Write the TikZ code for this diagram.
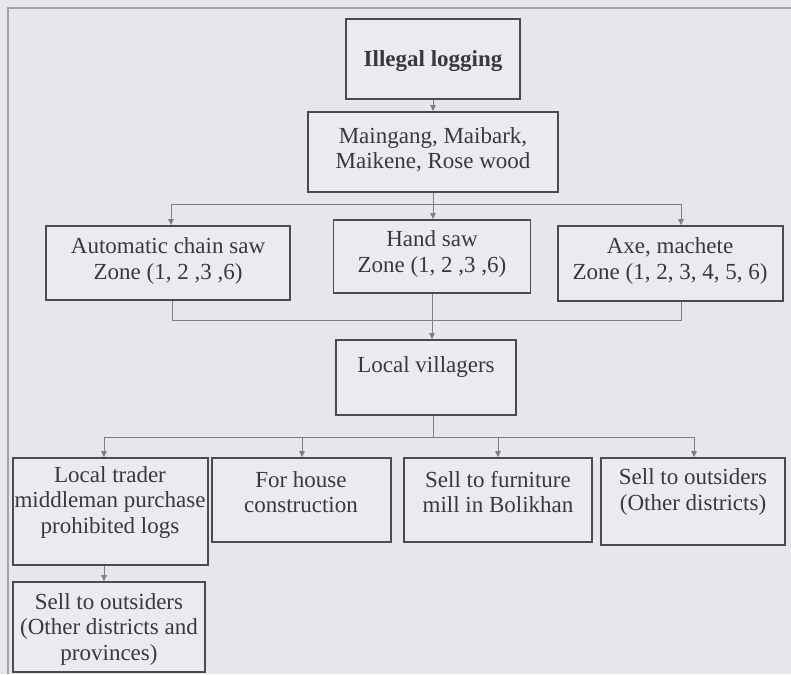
\documentclass[tikz,border=0pt]{standalone}
\usepackage{fontspec}
\setmainfont{Liberation Serif}
\usetikzlibrary{arrows.meta}
\definecolor{bg}{HTML}{E6E7EC}
\definecolor{boxfill}{HTML}{EAEBEF}
\definecolor{boxline}{HTML}{4A4A50}
\definecolor{txtc}{HTML}{38383E}
\definecolor{connc}{HTML}{7E7E86}
\definecolor{framec}{HTML}{A2A2AA}
\begin{document}
\begin{tikzpicture}[x=1pt,y=-1pt,
  box/.style={draw=boxline, fill=boxfill, line width=1.8pt, inner sep=0pt},
  txt/.style={text=txtc, align=center, inner sep=0pt, font=\fontsize{23}{25.5}\selectfont},
  conn/.style={draw=connc, line width=1pt},
  arr/.style={conn, -{Triangle[length=6pt,width=5.5pt]}}]
\fill[bg] (0,0) rectangle (791,674);
\useasboundingbox (0,0) rectangle (791,674);
\draw[framec, line width=1.2pt] (8,674) -- (8,8) -- (791,8);

% boxes
\node[box, minimum width=174pt, minimum height=80pt] (illegal) at (433,59) {};
\node[box, minimum width=250pt, minimum height=80pt] (maing) at (433,152) {};
\node[box, minimum width=244pt, minimum height=74pt] (chain) at (168,263) {};
\node[box, minimum width=197pt, minimum height=73pt] (hand) at (432,256.5) {};
\node[box, minimum width=225pt, minimum height=75pt] (axe) at (670.5,263.5) {};
\node[box, minimum width=180pt, minimum height=75pt] (vill) at (426,377.5) {};
\node[box, minimum width=195pt, minimum height=107pt] (trader) at (110.5,511.5) {};
\node[box, minimum width=179pt, minimum height=84pt] (house) at (301.5,500) {};
\node[box, minimum width=188pt, minimum height=84pt] (furn) at (498,500) {};
\node[box, minimum width=184pt, minimum height=87pt] (outs) at (693,501.5) {};
\node[box, minimum width=192pt, minimum height=90pt] (last) at (109,627) {};

% texts
\node[txt, font=\fontsize{23}{25.5}\selectfont\bfseries] (illegal-t) at (433,61) {Illegal logging};
\node[txt] (maing-t) at (433,150) {Maingang, Maibark,\\Maikene, Rose wood};
\node[txt] (chain-t) at (168,261) {Automatic chain saw\\Zone (1, 2 ,3 ,6)};
\node[txt] (hand-t) at (432,254) {Hand saw\\Zone (1, 2 ,3 ,6)};
\node[txt] (axe-t) at (670,261) {Axe, machete\\Zone (1, 2, 3, 4, 5, 6)};
\node[txt] (vill-t) at (426,367) {Local villagers};
\node[txt] (trader-t) at (110,502) {Local trader\\middleman purchase\\prohibited logs};
\node[txt] (house-t) at (301,492) {For house\\construction};
\node[txt] (furn-t) at (498,492) {Sell to furniture\\mill in Bolikhan};
\node[txt] (outs-t) at (693,492) {Sell to outsiders\\(Other districts)};
\node[txt] (last-t) at (109,629) {Sell to outsiders\\(Other districts and\\provinces)};

% connectors
\draw[arr] (illegal.south) -- (maing.north);

\coordinate (b1) at (433,204);
\coordinate (b1l) at (171,204);
\coordinate (b1r) at (681,204);
\draw[conn] (maing.south) -- (b1);
\draw[conn] (b1l) -- (b1r);
\draw[arr] (b1l) -- (b1l |- chain.north);
\draw[arr] (b1) -- (b1 |- hand.north);
\draw[arr] (b1r) -- (b1r |- axe.north);

\coordinate (m1l) at (172,320);
\coordinate (m1r) at (681,320);
\draw[conn] (m1l |- chain.south) -- (m1l) -- (m1r) -- (m1r |- axe.south);
\draw[arr] (hand.south) -- (hand.south |- vill.north);

\coordinate (b3) at (433,437);
\coordinate (b3l) at (104,437);
\coordinate (b3h) at (302,437);
\coordinate (b3f) at (498,437);
\coordinate (b3r) at (694,437);
\draw[conn] (b3 |- vill.south) -- (b3);
\draw[conn] (b3l) -- (b3r);
\draw[arr] (b3l) -- (b3l |- trader.north);
\draw[arr] (b3h) -- (b3h |- house.north);
\draw[arr] (b3f) -- (b3f |- furn.north);
\draw[arr] (b3r) -- (b3r |- outs.north);

\draw[arr] (b3l |- trader.south) -- (b3l |- last.north);
\end{tikzpicture}
\end{document}
